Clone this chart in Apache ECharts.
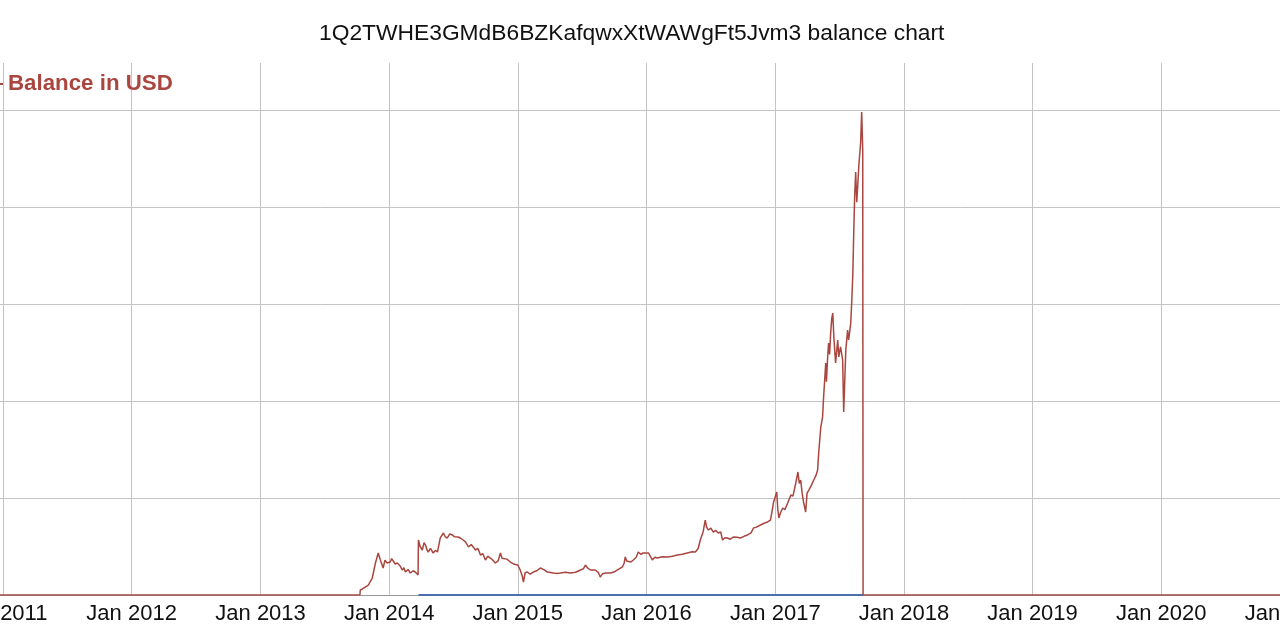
<!DOCTYPE html>
<html>
<head>
<meta charset="utf-8">
<script src="https://cdn.jsdelivr.net/npm/echarts@6/dist/echarts.min.js"></script>
<style>
  html, body { margin: 0; padding: 0; background: #ffffff; }
  #chart { width: 1280px; height: 640px; }
</style>
</head>
<body>
<div id="chart"></div>
<script>
// ---- data ----
const titleText = '1Q2TWHE3GMdB6BZKafqwxXtWAWgFt5Jvm3 balance chart';
const usdName = 'Balance in USD';
const btcName = 'Balance in BTC';

const usdBefore = [['2010-12-01', 0], ['2013-10-10', 0]];
const usd2013 = [
  ['2013-10-11', 52], ['2013-10-17', 62], ['2013-11-03', 103], ['2013-11-14', 175],
  ['2013-11-23', 330], ['2013-12-01', 433], ['2013-12-07', 361], ['2013-12-15', 278],
  ['2013-12-20', 360], ['2013-12-26', 330]
];
const usd2014 = [
  ['2014-01-04', 340], ['2014-01-08', 375], ['2014-01-13', 361], ['2014-01-18', 320],
  ['2014-01-24', 330], ['2014-02-01', 300], ['2014-02-07', 258], ['2014-02-12', 280],
  ['2014-02-16', 237], ['2014-02-24', 262], ['2014-03-02', 227], ['2014-03-10', 250],
  ['2014-03-16', 237], ['2014-03-24', 206],
  ['2014-03-25', 567], ['2014-03-30', 500], ['2014-04-05', 464], ['2014-04-10', 540],
  ['2014-04-14', 515], ['2014-04-18', 470], ['2014-04-22', 443], ['2014-04-28', 480],
  ['2014-05-06', 433], ['2014-05-12', 460], ['2014-05-18', 443], ['2014-05-26', 588],
  ['2014-06-04', 639], ['2014-06-09', 600], ['2014-06-15', 588], ['2014-06-22', 630],
  ['2014-06-29', 619], ['2014-07-06', 600], ['2014-07-16', 598], ['2014-07-23', 585],
  ['2014-07-30', 567], ['2014-08-06', 545], ['2014-08-14', 495], ['2014-08-22', 520],
  ['2014-09-03', 464], ['2014-09-10', 480], ['2014-09-17', 412], ['2014-09-24', 425],
  ['2014-10-01', 361], ['2014-10-08', 400], ['2014-10-15', 381], ['2014-10-22', 360],
  ['2014-10-29', 330], ['2014-11-06', 350], ['2014-11-13', 433], ['2014-11-17', 380],
  ['2014-11-21', 361], ['2014-12-01', 370], ['2014-12-11', 340], ['2014-12-20', 320]
];
const usd2015 = [
  ['2015-01-01', 309], ['2015-01-08', 258], ['2015-01-14', 190], ['2015-01-17', 134],
  ['2015-01-22', 230], ['2015-01-28', 237], ['2015-02-05', 215], ['2015-02-14', 237],
  ['2015-02-24', 250], ['2015-03-06', 278], ['2015-03-16', 262], ['2015-03-26', 237],
  ['2015-04-12', 227], ['2015-04-22', 222], ['2015-05-02', 227], ['2015-05-16', 235],
  ['2015-05-30', 227], ['2015-06-14', 235], ['2015-06-28', 258], ['2015-07-06', 270],
  ['2015-07-12', 309], ['2015-07-18', 280], ['2015-07-26', 258], ['2015-08-09', 258],
  ['2015-08-18', 230], ['2015-08-23', 186], ['2015-08-30', 220], ['2015-09-07', 227],
  ['2015-09-21', 227], ['2015-10-03', 240], ['2015-10-11', 258], ['2015-10-25', 289],
  ['2015-10-30', 330], ['2015-11-02', 392], ['2015-11-06', 350], ['2015-11-11', 330],
  ['2015-11-18', 340], ['2015-11-25', 361], ['2015-12-03', 390], ['2015-12-09', 443],
  ['2015-12-16', 420], ['2015-12-23', 433]
];
const usd2016 = [
  ['2016-01-07', 433], ['2016-01-12', 400], ['2016-01-18', 361], ['2016-01-25', 390],
  ['2016-02-01', 381], ['2016-02-15', 395], ['2016-03-01', 392], ['2016-03-15', 400],
  ['2016-03-29', 412], ['2016-04-12', 420], ['2016-04-26', 433], ['2016-05-10', 445],
  ['2016-05-19', 443], ['2016-05-27', 480], ['2016-06-02', 567], ['2016-06-10', 650],
  ['2016-06-16', 773], ['2016-06-20', 700], ['2016-06-25', 670], ['2016-07-02', 690],
  ['2016-07-09', 649], ['2016-07-16', 665], ['2016-07-23', 639], ['2016-07-30', 650],
  ['2016-08-04', 567], ['2016-08-11', 590], ['2016-08-18', 588], ['2016-08-26', 575],
  ['2016-09-04', 598], ['2016-09-14', 595], ['2016-09-24', 588], ['2016-10-04', 605],
  ['2016-10-14', 619], ['2016-10-24', 640], ['2016-10-31', 691], ['2016-11-08', 700],
  ['2016-11-20', 722], ['2016-11-30', 740], ['2016-12-10', 753], ['2016-12-18', 773],
  ['2016-12-22', 850], ['2016-12-27', 959]
];
const usd2017 = [
  ['2017-01-05', 1062], ['2017-01-08', 880], ['2017-01-11', 794], ['2017-01-16', 850],
  ['2017-01-22', 897], ['2017-01-28', 880], ['2017-02-05', 948], ['2017-02-10', 960],
  ['2017-02-14', 1031], ['2017-02-20', 1020], ['2017-02-28', 1155], ['2017-03-06', 1268],
  ['2017-03-10', 1150], ['2017-03-14', 1186], ['2017-03-18', 1050],
  ['2017-03-22', 959], ['2017-03-28', 856], ['2017-04-01', 1050], ['2017-04-06', 1082],
  ['2017-04-13', 1130], ['2017-04-20', 1186], ['2017-04-26', 1230],
  ['2017-05-01', 1289], ['2017-05-04', 1464], ['2017-05-10', 1732], ['2017-05-15', 1835],
  ['2017-05-18', 2041], ['2017-05-24', 2392], ['2017-05-26', 2200], ['2017-05-29', 2423],
  ['2017-06-01', 2598], ['2017-06-04', 2480], ['2017-06-07', 2701], ['2017-06-10', 2850],
  ['2017-06-13', 2907], ['2017-06-16', 2660], ['2017-06-21', 2392],
  ['2017-06-27', 2629], ['2017-06-30', 2454], ['2017-07-05', 2557], ['2017-07-11', 2423],
  ['2017-07-14', 1887], ['2017-07-20', 2526], ['2017-07-25', 2732], ['2017-07-28', 2629],
  ['2017-08-03', 2804], ['2017-08-06', 3041], ['2017-08-09', 3320], ['2017-08-11', 3660],
  ['2017-08-14', 4100], ['2017-08-17', 4361], ['2017-08-20', 4050], ['2017-08-23', 4227],
  ['2017-08-26', 4433], ['2017-08-31', 4660], ['2017-09-03', 4979], ['2017-09-06', 4588]
];
const usdAfter = [['2017-09-07', 0], ['2021-03-01', 0]];

const btcValues = [['2014-03-25', 1], ['2017-09-07', 1]];

const tickYears = [2011, 2012, 2013, 2014, 2015, 2016, 2017, 2018, 2019, 2020, 2021];
const yTicks = [0, 1000, 2000, 3000, 4000, 5000];

// ---- chart ----
const red = '#a9463f';
const blue = '#4a6fad';
function toTime(s) {
  const p = s.split('-').map(Number);
  return new Date(p[0], p[1] - 1, p[2]).getTime();
}
const toPoints = arr => arr.map(d => [toTime(d[0]), d[1]]);
const usdData = toPoints([].concat(usdBefore, usd2013, usd2014, usd2015, usd2016, usd2017, usdAfter));
const btcData = toPoints(btcValues);
const tickTimes = tickYears.map(y => new Date(y, 0, 1).getTime());

const chart = echarts.init(document.getElementById('chart'), null, { renderer: 'canvas' });
chart.setOption({
  animation: false,
  backgroundColor: '#ffffff',
  title: {
    text: titleText,
    left: 314,
    top: 17,
    textStyle: { fontFamily: 'Liberation Sans, Arial, sans-serif', fontSize: 22.8, fontWeight: 'normal', color: '#111111' }
  },
  legend: {
    data: [usdName],
    left: -27,
    top: 68,
    icon: 'rect',
    itemWidth: 25,
    itemHeight: 2,
    itemGap: 10,
    textStyle: { fontFamily: 'Liberation Sans, Arial, sans-serif', fontSize: 22.3, fontWeight: 'bold', color: red }
  },
  grid: { left: 0, right: -20, top: 63, bottom: 45, containLabel: false, outerBoundsMode: 'none' },
  xAxis: {
    type: 'value',
    min: new Date(2010, 11, 23, 12).getTime(),
    max: new Date(2021, 0, 29).getTime(),
    axisLine: { show: true, lineStyle: { color: '#999999', width: 1 } },
    axisTick: { show: false, customValues: tickTimes },
    splitLine: { show: true, lineStyle: { color: '#c4c4c4', width: 1 } },
    axisLabel: {
      customValues: tickTimes,
      margin: 8,
      fontFamily: 'Liberation Sans, Arial, sans-serif',
      fontSize: 22,
      color: '#111111',
      formatter: v => 'Jan ' + new Date(v).getFullYear()
    }
  },
  yAxis: {
    type: 'value',
    min: 0,
    max: 5485,
    axisLine: { show: false },
    axisTick: { show: false, customValues: yTicks },
    axisLabel: { show: false, customValues: yTicks },
    splitLine: { show: true, lineStyle: { color: '#c4c4c4', width: 1 } }
  },
  series: [
    {
      name: btcName,
      type: 'line',
      data: btcData,
      showSymbol: false,
      lineStyle: { color: blue, width: 2 },
      itemStyle: { color: blue },
      z: 2
    },
    {
      name: usdName,
      type: 'line',
      data: usdData,
      showSymbol: false,
      lineStyle: { color: red, width: 1.5 },
      itemStyle: { color: red },
      z: 3
    }
  ]
});
</script>
</body>
</html>
